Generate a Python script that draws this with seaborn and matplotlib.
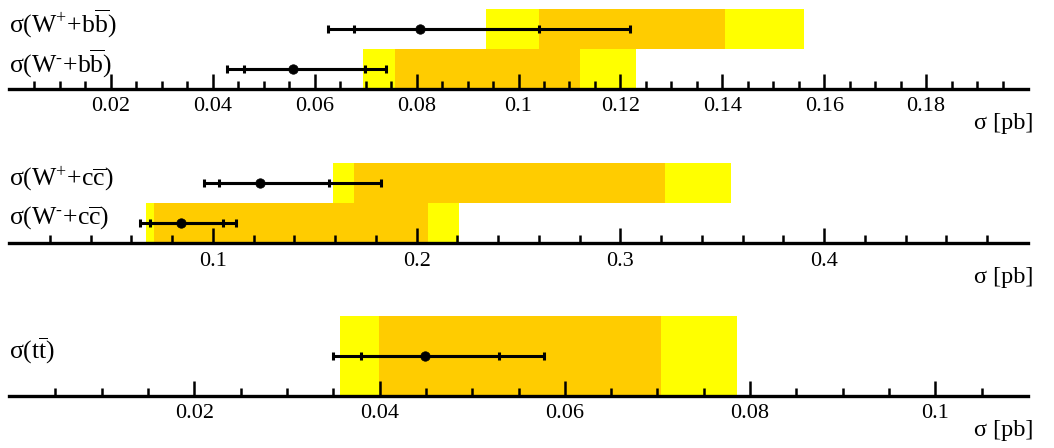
import matplotlib
matplotlib.use('Agg')
import matplotlib.pyplot as plt
import matplotlib.transforms as mtransforms
from matplotlib.ticker import FixedLocator, FuncFormatter
import numpy as np
import seaborn as sns

# ---- data (cross sections in pb) ----
# panel 1: W + b bbar  (rows top to bottom: W+, W-)
bb_labels = [r'$\mathrm{σ(W^{+}{+}b\overline{b})}$', r'$\mathrm{σ(W^{‐}{+}b\overline{b})}$']
bb_center = [0.0807, 0.0558]
bb_stat_lo = [0.0678, 0.0461]
bb_stat_hi = [0.1040, 0.0698]
bb_tot_lo = [0.0627, 0.0428]
bb_tot_hi = [0.1218, 0.0740]
bb_band_lo = [0.0937, 0.0694]
bb_band_hi = [0.1560, 0.1230]
bb_core_lo = [0.1040, 0.0757]
bb_core_hi = [0.1405, 0.1120]
bb_ticks = [0.02, 0.04, 0.06, 0.08, 0.10, 0.12, 0.14, 0.16, 0.18]

# panel 2: W + c cbar
cc_labels = [r'$\mathrm{σ(W^{+}{+}c\overline{c})}$', r'$\mathrm{σ(W^{‐}{+}c\overline{c})}$']
cc_center = [0.1231, 0.0842]
cc_stat_lo = [0.1032, 0.0693]
cc_stat_hi = [0.1568, 0.1052]
cc_tot_lo = [0.0959, 0.0643]
cc_tot_hi = [0.1827, 0.1112]
cc_band_lo = [0.1590, 0.0674]
cc_band_hi = [0.3543, 0.2210]
cc_core_lo = [0.1695, 0.0713]
cc_core_hi = [0.3217, 0.2057]
cc_ticks = [0.1, 0.2, 0.3, 0.4]

# panel 3: t tbar
tt_labels = [r'$\mathrm{σ(t\overline{t})}$']
tt_center = [0.0449]
tt_stat_lo = [0.0380]
tt_stat_hi = [0.0529]
tt_tot_lo = [0.0350]
tt_tot_hi = [0.0577]
tt_band_lo = [0.0357]
tt_band_hi = [0.0786]
tt_core_lo = [0.0399]
tt_core_hi = [0.0704]
tt_ticks = [0.02, 0.04, 0.06, 0.08, 0.10]

panels = [
    dict(labels=bb_labels, center=bb_center, stat_lo=bb_stat_lo, stat_hi=bb_stat_hi,
         tot_lo=bb_tot_lo, tot_hi=bb_tot_hi, band_lo=bb_band_lo, band_hi=bb_band_hi,
         core_lo=bb_core_lo, core_hi=bb_core_hi, ticks=bb_ticks, xmax=0.2, minor=0.005),
    dict(labels=cc_labels, center=cc_center, stat_lo=cc_stat_lo, stat_hi=cc_stat_hi,
         tot_lo=cc_tot_lo, tot_hi=cc_tot_hi, band_lo=cc_band_lo, band_hi=cc_band_hi,
         core_lo=cc_core_lo, core_hi=cc_core_hi, ticks=cc_ticks, xmax=0.5, minor=0.02),
    dict(labels=tt_labels, center=tt_center, stat_lo=tt_stat_lo, stat_hi=tt_stat_hi,
         tot_lo=tt_tot_lo, tot_hi=tt_tot_hi, band_lo=tt_band_lo, band_hi=tt_band_hi,
         core_lo=tt_core_lo, core_hi=tt_core_hi, ticks=tt_ticks, xmax=0.11, minor=0.005),
]

sns.set_theme(style='white')
plt.rcParams['font.family'] = ['Liberation Serif', 'DejaVu Serif']
plt.rcParams['mathtext.fontset'] = 'custom'
plt.rcParams['mathtext.rm'] = 'Liberation Serif'
plt.rcParams['mathtext.it'] = 'Liberation Serif:italic'
plt.rcParams['mathtext.bf'] = 'Liberation Serif:bold'

W, H = 1054, 448
fig = plt.figure(figsize=(W / 100, H / 100), dpi=100)

axis_rows = [89, 243.5, 395.7]   # pixel row of each axis line
left_px, right_px, height_px = 9, 1028, 80

for p, axis_y in zip(panels, axis_rows):
    ax = fig.add_axes([left_px / W, (H - axis_y) / H, (right_px - left_px) / W, height_px / H])
    n = len(p['labels'])
    y = np.array([n - i - 0.5 for i in range(n)])
    center = np.array(p['center'])

    ax.barh(y, np.array(p['band_hi']) - np.array(p['band_lo']), left=p['band_lo'],
            height=1.0, color='#ffff00', lw=0, zorder=1)
    ax.barh(y, np.array(p['core_hi']) - np.array(p['core_lo']), left=p['core_lo'],
            height=1.0, color='#ffcc00', lw=0, zorder=2)

    for lo, hi in [(p['tot_lo'], p['tot_hi']), (p['stat_lo'], p['stat_hi'])]:
        ax.errorbar(center, y, xerr=[center - np.array(lo), np.array(hi) - center],
                    fmt='none', ecolor='black', elinewidth=2.2, capsize=3.2,
                    capthick=2.2, zorder=4)
    sns.scatterplot(x=center, y=y, color='black', s=46, edgecolor='black',
                    ax=ax, zorder=5, legend=False)

    ax.set_xlim(0, p['xmax'])
    ax.set_ylim(0, n)
    ax.set_ylabel('')
    ax.set_yticks([])
    for s in ['left', 'right', 'top']:
        ax.spines[s].set_visible(False)
    ax.spines['bottom'].set_linewidth(2.4)
    ax.spines['bottom'].set_color('black')
    ax.set_axisbelow(False)
    ax.patch.set_alpha(0)

    ax.xaxis.set_major_locator(FixedLocator(p['ticks']))
    ax.xaxis.set_minor_locator(FixedLocator(np.arange(p['minor'], p['xmax'] - p['minor'] / 2, p['minor'])))
    ax.xaxis.set_major_formatter(FuncFormatter(lambda v, pos: f'{v:g}'))
    ax.tick_params(axis='x', which='major', direction='in', length=11, width=1.8,
                   labelsize=16, pad=6, colors='black', bottom=True)
    ax.tick_params(axis='x', which='minor', direction='in', length=5.5, width=1.8,
                   colors='black', bottom=True)

    ax.set_xlabel('σ [pb]', loc='right', fontsize=17.5, color='black')
    ax.xaxis.set_label_coords(1.005, -0.30)

    # row labels sit a few pixels above the centre of their bar
    trans = mtransforms.blended_transform_factory(ax.transAxes, ax.transData)
    for yy, lab in zip(y, p['labels']):
        ax.text(0.0, yy + 0.06 * n, lab, transform=trans, ha='left', va='center',
                fontsize=18.5, color='black')

fig.savefig('out.png', dpi=100)
plt.close(fig)
